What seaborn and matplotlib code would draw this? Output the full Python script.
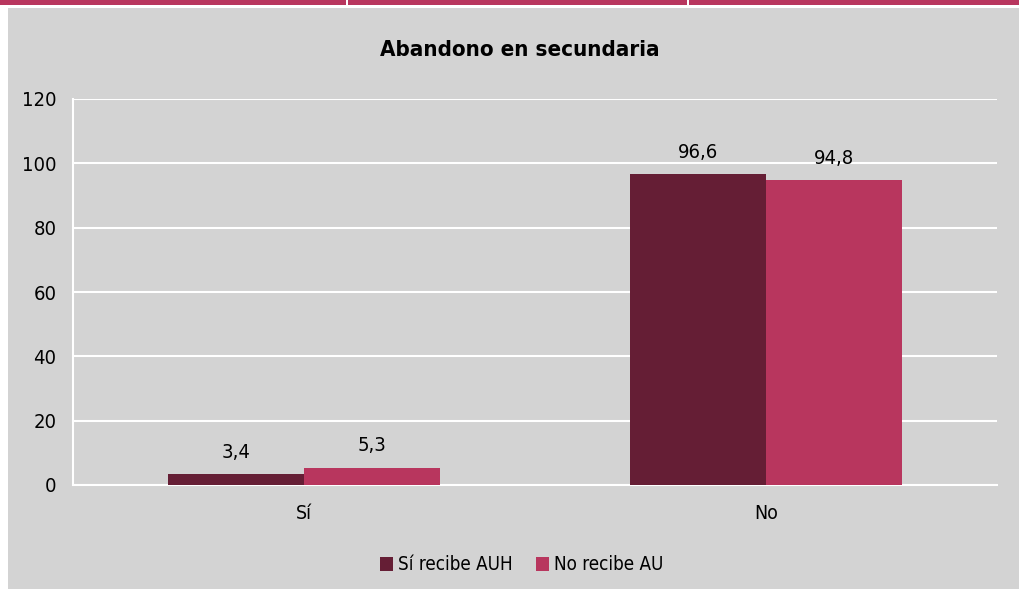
import pandas as pd
import matplotlib
matplotlib.use("Agg")
import matplotlib.pyplot as plt
import seaborn as sns
from matplotlib.patches import Rectangle

# data
categories = ["Sí", "No"]
series = ["Sí recibe AUH", "No recibe AU"]
auh_values = [3.4, 96.6]
no_auh_values = [5.3, 94.8]
y_ticks = [0, 20, 40, 60, 80, 100, 120]

colors = ["#651e35", "#b8365e"]
bg = "#d3d3d3"

df = pd.DataFrame({
    "categoria": categories * 2,
    "serie": [series[0]] * 2 + [series[1]] * 2,
    "valor": auh_values + no_auh_values,
})

sns.set_style("white")
plt.rcParams["font.family"] = ["DejaVu Sans"]
plt.rcParams["font.stretch"] = "condensed"

fig = plt.figure(figsize=(10.19, 5.89), dpi=100)
fig.patch.set_facecolor("white")

# gray panel and top magenta strip
W, H = 1019, 589
fig.patches.append(Rectangle((8 / W, 0), 1, (H - 8) / H, transform=fig.transFigure,
                             facecolor=bg, edgecolor="none", zorder=-2))
fig.patches.append(Rectangle((0, (H - 5) / H), 1, 5 / H, transform=fig.transFigure,
                             facecolor=colors[1], edgecolor="none", zorder=-2))
for sx in [346, 687]:
    fig.patches.append(Rectangle((sx / W, (H - 8) / H), 2 / W, 8 / H, transform=fig.transFigure,
                                 facecolor="white", edgecolor="none", zorder=-1))

ax = fig.add_axes([73 / W, (H - 485) / H, (997 - 73) / W, (485 - 99) / H])
ax.set_facecolor(bg)

sns.barplot(data=df, x="categoria", y="valor", hue="serie", order=categories,
            hue_order=series, palette=colors, width=0.59, saturation=1,
            linewidth=0, ax=ax, legend=False, zorder=3)

for cont, vals in zip(ax.containers, [auh_values, no_auh_values]):
    ax.bar_label(cont, labels=[f"{v:.1f}".replace(".", ",") for v in vals],
                 padding=9, fontsize=14.5, color="black")

ax.set_ylim(0, 120)
ax.set_yticks(y_ticks)
ax.yaxis.grid(True, color="white", linewidth=1.5, zorder=0)
ax.set_axisbelow(True)
for s in ["top", "right"]:
    ax.spines[s].set_visible(False)
for s in ["left", "bottom"]:
    ax.spines[s].set_color("white")
    ax.spines[s].set_linewidth(1.5)
ax.tick_params(axis="y", length=0, pad=12, labelsize=14.5, labelcolor="black")
ax.tick_params(axis="x", length=0, pad=14, labelsize=14, labelcolor="black")
ax.set_xlabel("")
ax.set_ylabel("")

fig.text(0.51, (H - 50) / H, "Abandono en secundaria", ha="center", va="center",
         fontsize=16, fontweight="bold", color="black")

handles = [Rectangle((0, 0), 1, 1, facecolor=c, edgecolor="none") for c in colors]
fig.legend(handles, series, loc="center", bbox_to_anchor=(0.512, (H - 565) / H),
           ncol=2, frameon=False, fontsize=13.5, handlelength=0.7, handleheight=0.7,
           handletextpad=0.3, columnspacing=1.2, labelcolor="black")

fig.savefig("out.png", dpi=100, facecolor=fig.get_facecolor())
